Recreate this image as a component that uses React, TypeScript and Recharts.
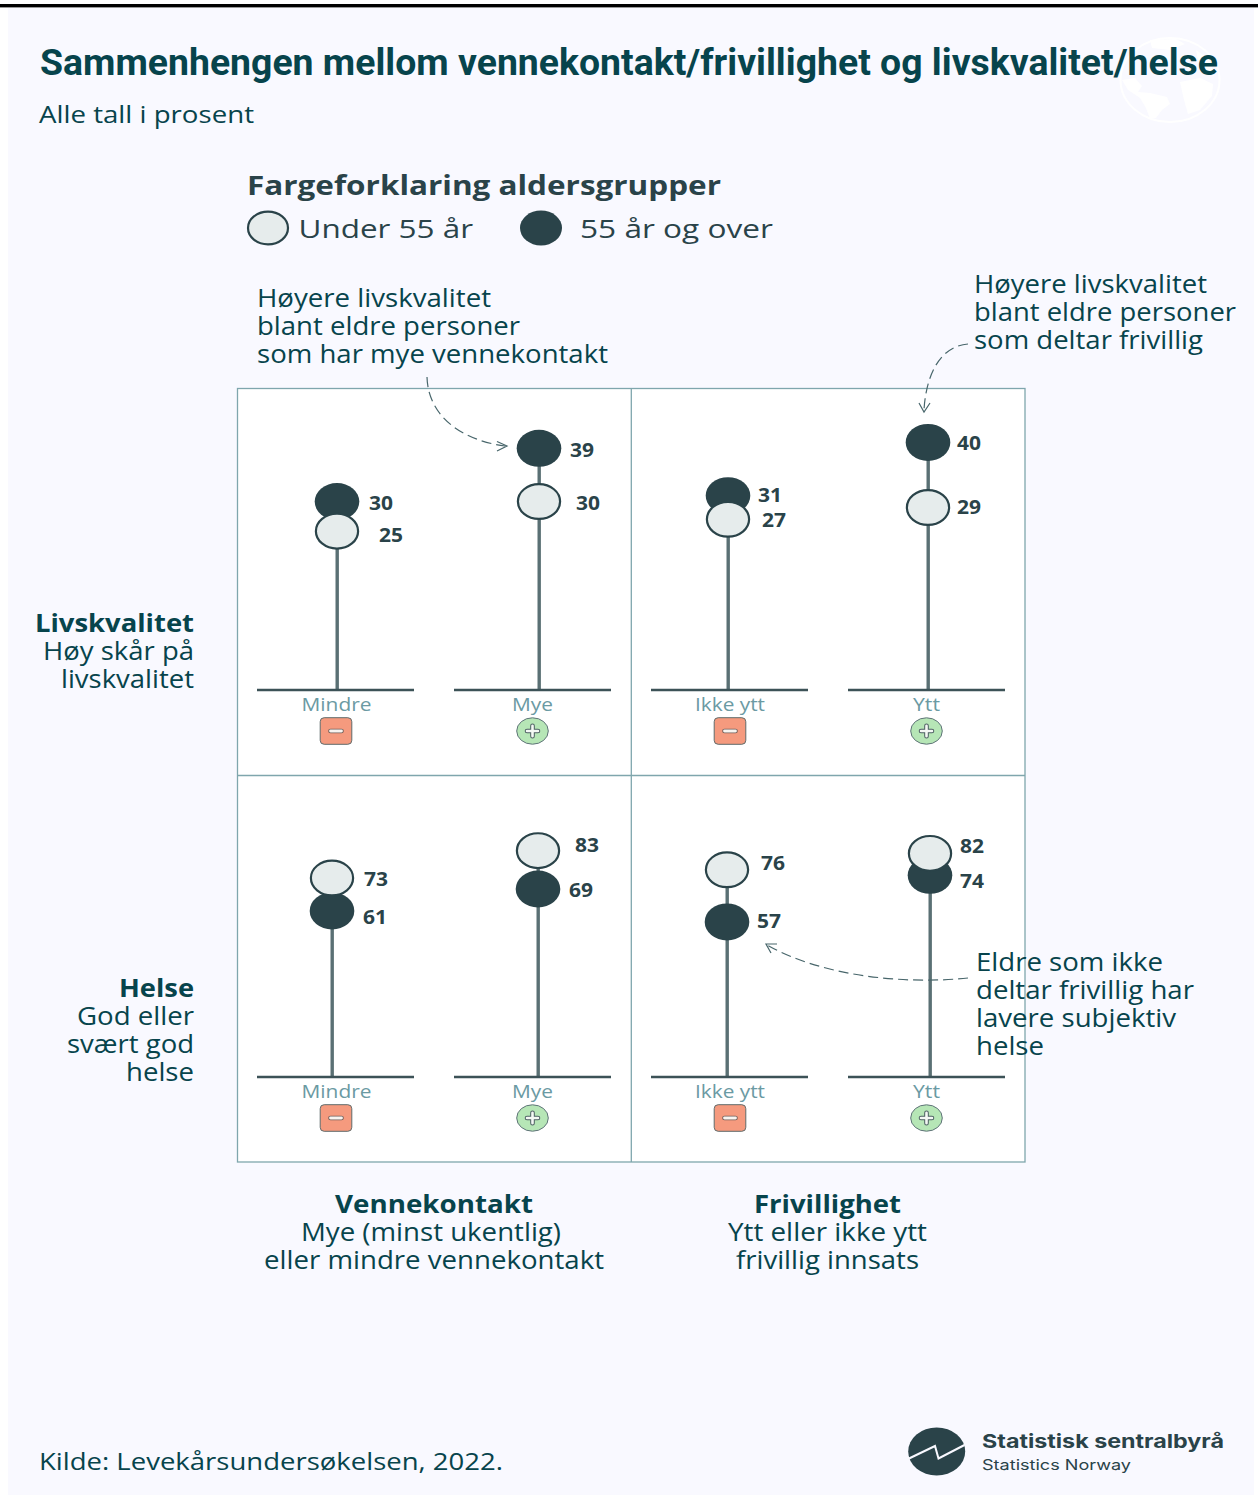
import React from 'react';
import { ComposedChart, Bar, Line, XAxis, YAxis } from 'recharts';

const contactGroups = ['Mindre', 'Mye'];
const volunteerGroups = ['Ikke ytt', 'Ytt'];

const lifeContactUnder55 = [25, 30];
const lifeContactOver55 = [30, 39];
const lifeVolunteerUnder55 = [27, 29];
const lifeVolunteerOver55 = [31, 40];
const healthContactUnder55 = [73, 83];
const healthContactOver55 = [61, 69];
const healthVolunteerUnder55 = [76, 82];
const healthVolunteerOver55 = [57, 74];

const lifeDomain: [number, number] = [-1.86, 49.2];
const healthDomain: [number, number] = [0.4, 110.6];

const C = {
  bg: '#f9f9ff',
  ink: '#07444c',
  dark: '#2a4349',
  light: '#e6ecec',
  stem: '#5a7074',
  border: '#7fa6ad',
  axisText: '#6b9aa3',
  arrow: '#48666b',
};

const BODY = '"Open Sans", sans-serif';

type Shift = [number, number];

function buildRows(groups: string[], under: number[], over: number[], domain: [number, number]) {
  return groups.map((group, i) => ({
    group,
    under: under[i],
    over: over[i],
    stem: [domain[0], Math.max(under[i], over[i])],
  }));
}

function Tick(props: any) {
  const { x, payload } = props;
  const label: string = payload.value;
  const positive = label === 'Mye' || label === 'Ytt';
  const base = 302;
  const widths: Record<string, number> = { Mindre: 70, Mye: 41, 'Ikke ytt': 70, Ytt: 27 };
  const w = widths[label];
  const bx = x + (label === 'Mindre' || label === 'Ikke ytt' ? 0.5 : 0);
  return (
    <g>
      <line x1={x - 78.5} x2={x + 78.5} y1={base} y2={base} stroke="#3c5257" strokeWidth={2.4} />
      <text
        x={x + (label === 'Ikke ytt' ? 0.5 : label === 'Mindre' ? 1 : 0) - w / 2}
        y={base + 21}
        textLength={w}
        lengthAdjust="spacingAndGlyphs"
        fontFamily={BODY}
        fontSize={18.4}
        fill={C.axisText}
      >
        {label}
      </text>
      {positive ? (
        <g>
          <ellipse cx={bx} cy={base + 41} rx={15.8} ry={13.2} fill="#b6e6b6" stroke="#5f7478" strokeWidth={1} />
          <path
            d={`M${bx - 5.5} ${base + 41}H${bx + 5.5}M${bx} ${base + 35.8}V${base + 46.2}`}
            stroke="#4d5f62"
            strokeWidth={4.6}
            strokeLinecap="round"
          />
          <path
            d={`M${bx - 5.5} ${base + 41}H${bx + 5.5}M${bx} ${base + 35.8}V${base + 46.2}`}
            stroke="#f4f8f4"
            strokeWidth={2.6}
            strokeLinecap="round"
          />
        </g>
      ) : (
        <g>
          <rect x={bx - 15.8} y={base + 27.7} width={31.6} height={26.6} rx={4} fill="#f59a7e" stroke="#5f6a6a" strokeWidth={1} />
          <line x1={bx - 5.5} x2={bx + 5.5} y1={base + 41} y2={base + 41} stroke="#6e5d58" strokeWidth={4.6} strokeLinecap="round" />
          <line x1={bx - 5.5} x2={bx + 5.5} y1={base + 41} y2={base + 41} stroke="#f8f4f0" strokeWidth={2.8} strokeLinecap="round" />
        </g>
      )}
    </g>
  );
}

function makeDot(kind: 'under' | 'over', nudge: number[], shifts: Shift[]) {
  return (props: any) => {
    const { cx, cy, index, value } = props;
    const x = cx + nudge[index];
    const [dx, dy] = shifts[index];
    const v = Array.isArray(value) ? value[1] : value;
    return (
      <g key={`${kind}-${index}`}>
        {kind === 'over' ? (
          <ellipse cx={x} cy={cy} rx={22.3} ry={18.5} fill={C.dark} />
        ) : (
          <ellipse cx={x} cy={cy} rx={21.1} ry={17.4} fill={C.light} stroke={C.dark} strokeWidth={2.2} />
        )}
        <text
          x={x + dx}
          y={cy + dy + 7}
          textAnchor="middle"
          fontFamily={BODY}
          fontWeight={700}
          fontSize={19.5}
          textLength={24}
          lengthAdjust="spacingAndGlyphs"
          fill={C.dark}
        >
          {v}
        </text>
      </g>
    );
  };
}

type PanelProps = {
  left: number;
  top: number;
  groups: string[];
  under: number[];
  over: number[];
  domain: [number, number];
  nudge: number[];
  underShift: Shift[];
  overShift: Shift[];
};

function Panel({ left, top, groups, under, over, domain, nudge, underShift, overShift }: PanelProps) {
  const rows = buildRows(groups, under, over, domain);
  return (
    <div style={{ position: 'absolute', left, top, width: 394, height: 387 }}>
      <ComposedChart width={394} height={387} data={rows} margin={{ top: 0, right: 0, bottom: 0, left: 0 }}>
        <XAxis dataKey="group" height={85} interval={0} axisLine={false} tickLine={false} tick={Tick} />
        <YAxis hide domain={domain} width={0} allowDataOverflow />
        <Bar
          dataKey="stem"
          barSize={3.4}
          isAnimationActive={false}
          shape={(p: any) => (
            <rect x={p.x + nudge[p.index]} y={p.y} width={p.width} height={p.height} fill={C.stem} />
          )}
        />
        <Line
          dataKey="over"
          stroke="none"
          legendType="none"
          isAnimationActive={false}
          activeDot={false}
          dot={makeDot('over', nudge, overShift)}
        />
        <Line
          dataKey="under"
          stroke="none"
          legendType="none"
          isAnimationActive={false}
          activeDot={false}
          dot={makeDot('under', nudge, underShift)}
        />
      </ComposedChart>
    </div>
  );
}

function T(props: {
  x: number;
  y: number;
  w: number;
  size: number;
  bold?: boolean;
  fill?: string;
  font?: string;
  children: string;
}) {
  const { x, y, w, size, bold, fill, font, children } = props;
  const bearing = font ? 0 : 1;
  return (
    <text
      x={x - bearing}
      y={y}
      textLength={w + bearing}
      lengthAdjust="spacingAndGlyphs"
      fontFamily={font || BODY}
      fontWeight={bold ? 700 : 400}
      fontSize={size}
      fill={fill || C.ink}
    >
      {children}
    </text>
  );
}

const dash = '10 5';
const S = 24.6;

export default function App() {
  return (
    <div style={{ position: 'absolute', left: 0, top: 0, width: 1258, height: 1495, overflow: 'hidden', background: '#ffffff' }}>
      <svg width={1258} height={1495} style={{ position: 'absolute', left: 0, top: 0 }}>
        <rect x={8} y={8} width={1246} height={1487} fill={C.bg} />
        <rect x={0} y={4} width={1258} height={3.4} fill="#000000" />
        <g fill="#ffffff" stroke="none">
          <ellipse cx={1170} cy={80} rx={49.5} ry={42} fill="none" stroke="#ffffff" strokeWidth={2} />
          <path d="M1122 80 L1135 78 L1142 86 L1138 92 L1150 93 L1167 97 L1170 104 L1162 110 L1156 118 L1150 119 L1146 108 L1140 98 L1128 90 Z" />
          <path d="M1180 82 L1200 78 L1213 84 L1212 96 L1200 110 L1188 114 L1184 100 Z" />
          <path d="M1150 40 L1176 39 L1185 44 L1170 50 L1152 48 Z" />
          <path d="M1196 50 L1210 60 L1214 76 L1204 72 L1198 60 Z" />
        </g>
        <rect x={238} y={388.5} width={393} height={387} fill="#ffffff" />
        <rect x={631} y={388.5} width={394} height={387} fill="#ffffff" />
        <rect x={238} y={775.5} width={393} height={387} fill="#ffffff" />
        <rect x={631} y={775.5} width={394} height={387} fill="#ffffff" />
      </svg>

      <Panel
        left={237}
        top={388}
        groups={contactGroups}
        under={lifeContactUnder55}
        over={lifeContactOver55}
        domain={lifeDomain}
        nudge={[1.5, 6.5]}
        underShift={[[54, 3.7], [49, 1.3]]}
        overShift={[[44, 1], [43, 1.5]]}
      />
      <Panel
        left={631}
        top={388}
        groups={volunteerGroups}
        under={lifeVolunteerUnder55}
        over={lifeVolunteerOver55}
        domain={lifeDomain}
        nudge={[-1.5, 1.5]}
        underShift={[[46, 0.6], [41, -0.6]]}
        overShift={[[42, -1], [41, 0.4]]}
      />
      <Panel
        left={237}
        top={775}
        groups={contactGroups}
        under={healthContactUnder55}
        over={healthContactOver55}
        domain={healthDomain}
        nudge={[-3.5, 5.5]}
        underShift={[[44, 1.3], [49, -5.6]]}
        overShift={[[43, 5.7], [43, 1]]}
      />
      <Panel
        left={631}
        top={775}
        groups={volunteerGroups}
        under={healthVolunteerUnder55}
        over={healthVolunteerOver55}
        domain={healthDomain}
        nudge={[-2.5, 3.5]}
        underShift={[[46, -7], [42, -7.3]]}
        overShift={[[42, -1], [42, 5.8]]}
      />

      <svg width={1258} height={1495} style={{ position: 'absolute', left: 0, top: 0, pointerEvents: 'none' }}>
        <g stroke={C.border} strokeWidth={1.3} fill="none">
          <rect x={237.5} y={388.5} width={787.5} height={773.5} />
          <line x1={631.3} x2={631.3} y1={388.5} y2={1162} />
          <line x1={237.5} x2={1025} y1={775.5} y2={775.5} />
        </g>

        <T x={40} y={74.5} w={1178} size={36} bold font="Roboto, sans-serif">
          Sammenhengen mellom vennekontakt/frivillighet og livskvalitet/helse
        </T>
        <T x={40} y={123} w={214} size={24}>Alle tall i prosent</T>

        <T x={248} y={194.5} w={473} size={26} bold fill={C.dark}>Fargeforklaring aldersgrupper</T>
        <ellipse cx={268} cy={228} rx={20} ry={16.3} fill={C.light} stroke={C.dark} strokeWidth={2.2} />
        <T x={299.5} y={238.3} w={173.5} size={26} fill={C.dark}>Under 55 år</T>
        <ellipse cx={541} cy={228} rx={21} ry={17.5} fill={C.dark} />
        <T x={581} y={238.3} w={192} size={26} fill={C.dark}>55 år og over</T>

        <T x={258} y={307.2} w={233} size={S}>Høyere livskvalitet</T>
        <T x={258} y={335.2} w={262} size={S}>blant eldre personer</T>
        <T x={258} y={363.2} w={350} size={S}>som har mye vennekontakt</T>

        <T x={975} y={293} w={232} size={S}>Høyere livskvalitet</T>
        <T x={975} y={321} w={261} size={S}>blant eldre personer</T>
        <T x={975} y={349} w={228} size={S}>som deltar frivillig</T>

        <T x={36} y={632.2} w={158} size={S} bold>Livskvalitet</T>
        <T x={44} y={660.2} w={150} size={S}>Høy skår på</T>
        <T x={62} y={688.2} w={132} size={S}>livskvalitet</T>

        <T x={120} y={997.2} w={74} size={S} bold>Helse</T>
        <T x={78} y={1025.2} w={116} size={S}>God eller</T>
        <T x={68} y={1053.2} w={126} size={S}>svært god</T>
        <T x={127} y={1081.2} w={67} size={S}>helse</T>

        <T x={336} y={1213} w={197} size={S} bold>Vennekontakt</T>
        <T x={302} y={1241} w={259} size={S}>Mye (minst ukentlig)</T>
        <T x={265} y={1269} w={339} size={S}>eller mindre vennekontakt</T>

        <T x={755} y={1213} w={146} size={S} bold>Frivillighet</T>
        <T x={729} y={1241} w={198} size={S}>Ytt eller ikke ytt</T>
        <T x={737} y={1269} w={182} size={S}>frivillig innsats</T>

        <T x={977} y={971} w={186} size={S}>Eldre som ikke</T>
        <T x={977} y={999} w={217} size={S}>deltar frivillig har</T>
        <T x={977} y={1027} w={199} size={S}>lavere subjektiv</T>
        <T x={977} y={1055} w={67} size={S}>helse</T>

        <T x={40} y={1470} w={463} size={24}>Kilde: Levekårsundersøkelsen, 2022.</T>

        <g fill="none" stroke={C.arrow} strokeWidth={1.2}>
          <path d="M427 377 C428 415 460 440 505 446" strokeDasharray={dash} />
          <path d="M497 441.5 L507 446 L497 451" />
          <path d="M968 344 C940 346 926 375 924 410" strokeDasharray={dash} />
          <path d="M919 403 L924 412 L930 403" />
          <path d="M968 978 C900 985 820 975 767 945" strokeDasharray={dash} />
          <path d="M777 944 L766 944 L771 953" />
        </g>

        <ellipse cx={936.7} cy={1451.5} rx={28.5} ry={24} fill={C.dark} />
        <path d="M909 1458.5 L935 1446 L938.5 1458.5 L964.5 1445" fill="none" stroke="#f9f9ff" strokeWidth={2} />
        <T x={982} y={1448.3} w={242} size={19} bold fill={C.dark} font="Inter, sans-serif">Statistisk sentralbyrå</T>
        <T x={982} y={1470} w={149} size={14.5} fill={C.dark} font="Inter, sans-serif">Statistics Norway</T>
      </svg>
    </div>
  );
}
